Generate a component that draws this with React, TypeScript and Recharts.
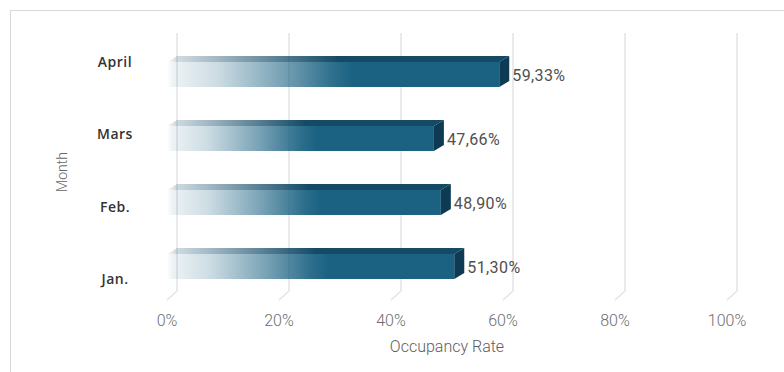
import React from "react";
import {
  BarChart,
  Bar,
  XAxis,
  YAxis,
  CartesianGrid,
  LabelList,
  Label,
} from "recharts";

const MONTHS = ["Jan.", "Feb.", "Mars", "April"];
const RATES = [51.3, 48.9, 47.66, 59.33];
const X_TICKS = [0, 20, 40, 60, 80, 100];

const data = MONTHS.map((m, i) => ({ month: m, rate: RATES[i] }));

const FRONT = "#1b6282";
const TOP = "#134b67";
const SIDE = "#0e3b53";
const DEPTH_X = 10;
const DEPTH_Y = 6;

const fmt = (v: number) => v.toFixed(2).replace(".", ",") + "%";

function Bar3D(props: any) {
  const { x, y, width, height } = props;
  const w = Math.max(width, 0);
  return (
    <g>
      <polygon
        points={`${x},${y} ${x + DEPTH_X},${y - DEPTH_Y} ${x + w + DEPTH_X},${y - DEPTH_Y} ${x + w},${y}`}
        fill="url(#topFade)"
      />
      <rect x={x} y={y} width={w} height={height} fill="url(#frontFade)" />
      <polygon
        points={`${x + w},${y} ${x + w + DEPTH_X},${y - DEPTH_Y} ${x + w + DEPTH_X},${y + height - DEPTH_Y} ${x + w},${y + height}`}
        fill={SIDE}
      />
    </g>
  );
}

function GridLine(props: any) {
  const { x1, y1, y2, key } = props;
  return (
    <path
      key={key}
      d={`M${x1 + DEPTH_X},${y1 - 9} L${x1 + DEPTH_X},${y2 - 7} L${x1},${y2 + 2}`}
      fill="none"
      stroke="#e4e4e4"
      strokeWidth={1.5}
    />
  );
}

function MonthTick(props: any) {
  const { y, payload } = props;
  const mid = 170;
  return (
    <text
      x={115}
      y={mid + (y - mid) * 1.13}
      textAnchor="middle"
      dominantBaseline="central"
      fontFamily="Open Sans"
      fontWeight={600}
      fontSize={14}
      letterSpacing={0.5}
      fill="#333"
    >
      {payload.value}
    </text>
  );
}

function RateTick(props: any) {
  const { x, y, payload } = props;
  return (
    <text
      x={x}
      y={y + 20}
      textAnchor="middle"
      fontFamily="Roboto"
      fontWeight={300}
      fontSize={16}
      fill="#6e6e6e"
    >
      {payload.value}%
    </text>
  );
}

function ValueLabel(props: any) {
  const { x, y, width, height, value } = props;
  return (
    <text
      x={x + width + DEPTH_X + 3}
      y={y + height / 2 + 1}
      dominantBaseline="central"
      fontFamily="Roboto"
      fontSize={16}
      letterSpacing={0.4}
      fill="#505050"
    >
      {fmt(value)}
    </text>
  );
}

export default function App() {
  return (
    <div style={{ position: "absolute", left: 0, top: 0, width: 784, height: 372, background: "#fff" }}>
      <svg width={784} height={372} style={{ position: "absolute", left: 0, top: 0 }}>
        <rect x={10.5} y={10.5} width={800} height={400} fill="none" stroke="#d9d9d9" strokeWidth={1} />
      </svg>
      <div style={{ position: "absolute", left: 0, top: 0 }}>
        <BarChart
          width={784}
          height={372}
          data={data}
          layout="vertical"
          margin={{ top: 42, right: 57, bottom: 0, left: 0 }}
        >
          <defs>
            <linearGradient id="frontFade" x1="0" y1="0" x2="1" y2="0">
              <stop offset="0" stopColor={FRONT} stopOpacity={0} />
              <stop offset="0.02" stopColor={FRONT} stopOpacity={0.08} />
              <stop offset="0.15" stopColor={FRONT} stopOpacity={0.22} />
              <stop offset="0.35" stopColor={FRONT} stopOpacity={0.6} />
              <stop offset="0.5" stopColor={FRONT} stopOpacity={0.92} />
              <stop offset="0.56" stopColor={FRONT} stopOpacity={1} />
              <stop offset="1" stopColor={FRONT} stopOpacity={1} />
            </linearGradient>
            <linearGradient id="topFade" x1="0" y1="0" x2="1" y2="0">
              <stop offset="0" stopColor={TOP} stopOpacity={0} />
              <stop offset="0.03" stopColor={TOP} stopOpacity={0.2} />
              <stop offset="0.15" stopColor={TOP} stopOpacity={0.4} />
              <stop offset="0.35" stopColor={TOP} stopOpacity={0.75} />
              <stop offset="0.5" stopColor={TOP} stopOpacity={1} />
              <stop offset="1" stopColor={TOP} stopOpacity={1} />
            </linearGradient>
          </defs>
          <CartesianGrid horizontal={false} vertical={GridLine} />
          <XAxis
            type="number"
            domain={[0, 100]}
            ticks={X_TICKS}
            axisLine={false}
            tickLine={false}
            height={74}
            tick={RateTick}
          >
            <Label
              content={(p: any) => (
                <text
                  x={p.viewBox.x + p.viewBox.width / 2}
                  y={p.viewBox.y + 54}
                  textAnchor="middle"
                  fontFamily="Roboto"
                  fontWeight={300}
                  fontSize={16}
                  fill="#5e5e5e"
                >
                  Occupancy Rate
                </text>
              )}
            />
          </XAxis>
          <YAxis
            type="category"
            dataKey="month"
            reversed
            width={167}
            axisLine={false}
            tickLine={false}
            tick={MonthTick}
          >
            <Label
              content={(p: any) => {
                const cx = 62;
                const cy = p.viewBox.y + p.viewBox.height / 2 + 2;
                return (
                  <text
                    x={cx}
                    y={cy}
                    transform={`rotate(-90 ${cx} ${cy})`}
                    textAnchor="middle"
                    dominantBaseline="central"
                    fontFamily="Roboto"
                    fontWeight={300}
                    fontSize={14}
                    fill="#666"
                  >
                    Month
                  </text>
                );
              }}
            />
          </YAxis>
          <Bar dataKey="rate" barSize={25} shape={Bar3D} isAnimationActive={false}>
            <LabelList dataKey="rate" content={ValueLabel} />
          </Bar>
        </BarChart>
      </div>
    </div>
  );
}
